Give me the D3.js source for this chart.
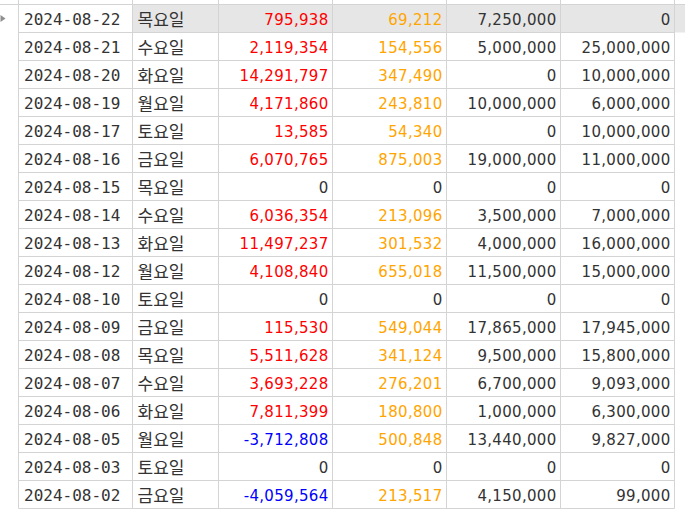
<!DOCTYPE html>
<html>
<head>
<meta charset="utf-8">
<script src="https://cdn.jsdelivr.net/npm/d3@7"></script>
<style>
  html, body { margin: 0; padding: 0; background: #fff; }
  svg { display: block; }
</style>
</head>
<body>
<svg id="chart" width="685" height="514"></svg>
<script>
const dates = ["2024-08-22","2024-08-21","2024-08-20","2024-08-19","2024-08-17","2024-08-16","2024-08-15","2024-08-14","2024-08-13","2024-08-12","2024-08-10","2024-08-09","2024-08-08","2024-08-07","2024-08-06","2024-08-05","2024-08-03","2024-08-02"];
const weekdays = ["목요일","수요일","화요일","월요일","토요일","금요일","목요일","수요일","화요일","월요일","토요일","금요일","목요일","수요일","화요일","월요일","토요일","금요일"];
const profit = [795938,2119354,14291797,4171860,13585,6070765,0,6036354,11497237,4108840,0,115530,5511628,3693228,7811399,-3712808,0,-4059564];
const fees = [69212,154556,347490,243810,54340,875003,0,213096,301532,655018,0,549044,341124,276201,180800,500848,0,213517];
const deposits = [7250000,5000000,0,10000000,0,19000000,0,3500000,4000000,11500000,0,17865000,9500000,6700000,1000000,13440000,0,4150000];
const withdrawals = [0,25000000,10000000,6000000,10000000,11000000,0,7000000,16000000,15000000,0,17945000,15800000,9093000,6300000,9827000,0,99000];

const W = 685, H = 514;
const svg = d3.select("#chart");
const gridColor = "#d4d4d4";
const textGrey = "#333333";
const locale = d3.formatLocale({decimal: ".", thousands: ",", grouping: [3], currency: ["", ""], minus: "-"});
const fmt = locale.format(",");

// column boundaries (layout): date | weekday | profit | fees | deposits | withdrawals
const colEdges = [18.5, 132.5, 218.5, 332.5, 446.5, 560.5, 674.5];
const y = d3.scaleBand().domain(d3.range(dates.length)).range([4.5, 508.5]).padding(0);

// selected row highlight (first row, from weekday column to right edge)
svg.append("rect")
  .attr("x", colEdges[1]).attr("y", y(0))
  .attr("width", W - colEdges[1]).attr("height", y.bandwidth())
  .attr("fill", "#e6e6e6");

// row-header indicator
const ry = y(0) + y.bandwidth() / 2;
svg.append("path")
  .attr("d", `M0.5,${ry-3.5} L5.5,${ry} L0.5,${ry+3.5} Z`)
  .attr("fill", "#8f8f8f");

// horizontal grid lines
svg.append("line").attr("x1", 0).attr("x2", W).attr("y1", y(0)).attr("y2", y(0))
  .attr("stroke", gridColor);
svg.selectAll("line.h").data(d3.range(1, dates.length + 1)).join("line")
  .attr("class", "h")
  .attr("x1", colEdges[0]).attr("x2", colEdges[colEdges.length - 1])
  .attr("y1", i => y(0) + i * y.bandwidth()).attr("y2", i => y(0) + i * y.bandwidth())
  .attr("stroke", gridColor);

// vertical grid lines
svg.selectAll("line.v").data(colEdges).join("line")
  .attr("class", "v")
  .attr("x1", d => d).attr("x2", d => d)
  .attr("y1", 0).attr("y2", y(0) + dates.length * y.bandwidth())
  .attr("stroke", gridColor);

const baseY = i => y(i) + 20.5;

// date column
svg.selectAll("text.date").data(dates).join("text")
  .attr("class", "date")
  .attr("x", colEdges[0] + 5.5).attr("y", (d, i) => baseY(i))
  .attr("font-family", "DejaVu Sans Mono")
  .attr("font-size", 16)
  .attr("fill", textGrey)
  .text(d => d);

// weekday column
svg.selectAll("text.day").data(weekdays).join("text")
  .attr("class", "day")
  .attr("x", colEdges[1] + 5).attr("y", (d, i) => baseY(i) + 1)
  .attr("font-family", "Noto Sans CJK KR")
  .attr("font-size", 17)
  .attr("fill", textGrey)
  .text(d => d);

function numCol(data, colIdx, colorFn) {
  svg.selectAll("text.c" + colIdx).data(data).join("text")
    .attr("class", "c" + colIdx)
    .attr("x", colEdges[colIdx + 1] - 4).attr("y", (d, i) => baseY(i))
    .attr("text-anchor", "end")
    .attr("font-family", "DejaVu Sans")
    .attr("font-size", 15)
    .attr("letter-spacing", 0.3)
    .attr("fill", colorFn)
    .text(d => fmt(d));
}

numCol(profit, 2, d => d > 0 ? "#ff0000" : d < 0 ? "#0000ff" : textGrey);
numCol(fees, 3, d => d > 0 ? "#ffa500" : textGrey);
numCol(deposits, 4, () => textGrey);
numCol(withdrawals, 5, () => textGrey);
</script>
</body>
</html>
